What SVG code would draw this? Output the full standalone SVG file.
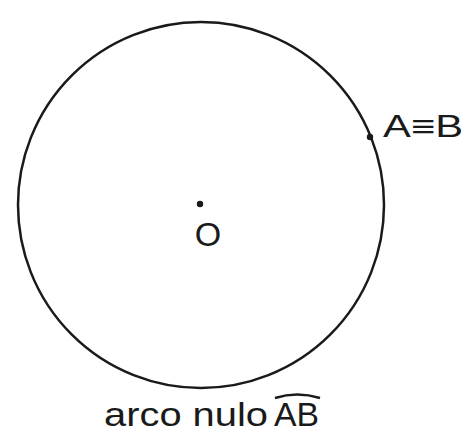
<svg xmlns="http://www.w3.org/2000/svg" width="465" height="433" viewBox="0 0 465 433">
<style>
.t{font-family:"Liberation Sans",Arial,sans-serif;fill:#1a1a1a}
.ln{fill:none;stroke:#1a1a1a;stroke-width:2.5}
.pt{fill:#1a1a1a}
</style>
<rect width="465" height="433" fill="#fff"/>
<g id="circle"><circle class="ln" cx="201" cy="205" r="183"/></g>
<g id="O"><circle class="pt" cx="200" cy="204" r="3.2"/><text class="t" x="208" y="246" font-size="34" text-anchor="middle">O</text></g>
<g id="AB"><circle class="pt" cx="370" cy="137" r="3.2"/><text class="t" x="383" y="137" font-size="31" textLength="80" lengthAdjust="spacingAndGlyphs">A≡B</text></g>
<g id="label"><text class="t" x="104" y="426" font-size="34"><tspan textLength="164" lengthAdjust="spacingAndGlyphs">arco nulo</tspan> <tspan x="274" textLength="45" lengthAdjust="spacingAndGlyphs">AB</tspan></text><path class="ln" d="M275 398 Q297 391 320 398" stroke-width="2"/></g>
</svg>
